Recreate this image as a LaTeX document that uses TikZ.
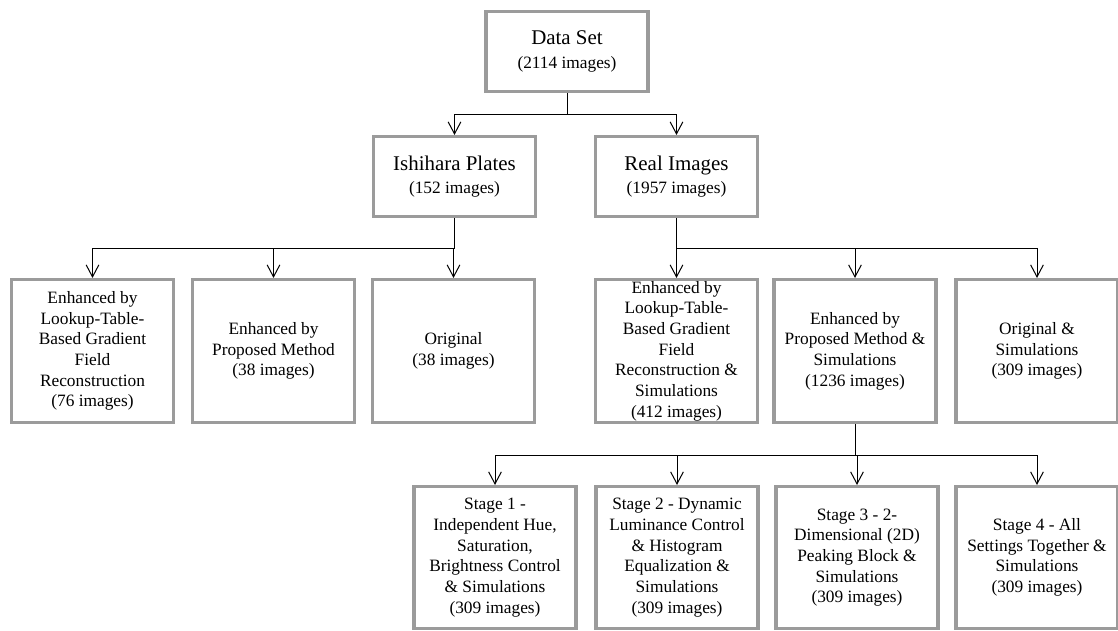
\documentclass[tikz,border=0pt]{standalone}
\usepackage{fontspec}
\setmainfont{Liberation Serif}
\usetikzlibrary{arrows.meta,positioning}
\definecolor{boxgray}{RGB}{155,155,155}

\begin{document}
\begin{tikzpicture}[x=0.75pt,y=-0.75pt,
    box/.style={rectangle, draw=boxgray, line width=2.3pt, align=center, inner sep=1pt,
        minimum width=162*0.75pt, minimum height=143*0.75pt,
        font=\fontsize{13}{15.5}\selectfont},
    top/.style={box, minimum height=80*0.75pt, font=\fontsize{13}{17.5}\selectfont},
    stagebox/.style={box, minimum height=142*0.75pt},
    conn/.style={-{Straight Barb[length=9pt,width=9.5pt]}, line width=0.75pt}]

    \useasboundingbox (0,0) rectangle (1118,631);

    \node[top] (ds) at (567,51.5) {{\fontsize{15.7}{17.5}\selectfont Data Set}\\(2114 images)};
    \node[top] (ip) at (454.5,176.5) {{\fontsize{15.7}{17.5}\selectfont Ishihara Plates}\\(152 images)};
    \node[top] (ri) at (676.5,176.5) {{\fontsize{15.7}{17.5}\selectfont Real Images}\\(1957 images)};

    \foreach \n/\x/\t in {
        a/92.5/{Enhanced by\\Lookup-Table-\\Based Gradient\\Field\\Reconstruction\\(76 images)},
        b/273.5/{Enhanced by\\Proposed Method\\(38 images)},
        c/453.5/{Original\\(38 images)},
        d/676.5/{Enhanced by\\Lookup-Table-\\Based Gradient\\Field\\Reconstruction \&\\Simulations\\(412 images)},
        e/855/{Enhanced by\\Proposed Method \&\\Simulations\\(1236 images)},
        f/1037/{Original \&\\Simulations\\(309 images)}}{
        \node[box] (\n) at (\x,351) {\t};
    }

    \foreach \n/\x/\t in {
        s1/495/{Stage 1 -\\Independent Hue,\\Saturation,\\Brightness Control\\\& Simulations\\(309 images)},
        s2/677/{Stage 2 - Dynamic\\Luminance Control\\\& Histogram\\Equalization \&\\Simulations\\(309 images)},
        s3/857/{Stage 3 - 2-\\Dimensional (2D)\\Peaking Block \&\\Simulations\\(309 images)},
        s4/1037/{Stage 4 - All\\Settings Together \&\\Simulations\\(309 images)}}{
        \node[stagebox] (\n) at (\x,557.5) {\t};
    }

    \foreach \d in {ip,ri}{
        \draw[conn] (ds.south) -- ++(0,21) -| (\d.north);
    }
    \foreach \d in {a,b,c}{
        \draw[conn] (ip.south) -- ++(0,30) -| (\d.north);
    }
    \foreach \d in {d,e,f}{
        \draw[conn] (ri.south) -- ++(0,30) -| (\d.north);
    }
    \foreach \d in {s1,s2,s3,s4}{
        \draw[conn] (e.south) -- ++(0,31) -| (\d.north);
    }

\end{tikzpicture}
\end{document}
